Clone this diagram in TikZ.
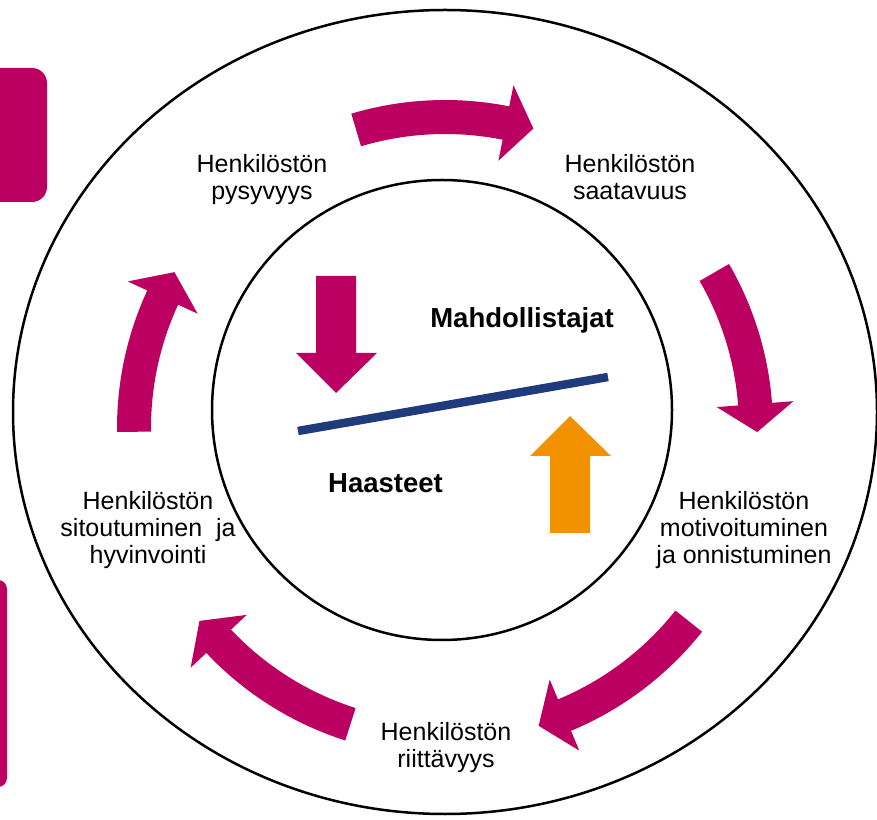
\documentclass[tikz,border=0pt]{standalone}
\usepackage{fontspec}
\setmainfont{Liberation Sans}
\definecolor{mag}{RGB}{188,0,98}
\definecolor{org}{RGB}{243,146,0}
\definecolor{navy}{RGB}{31,58,125}
% curved block arrow on circle centre (445,391), radius 311, clockwise from angle #1 to head base #2
\newcommand\cyclearrow[2]{%
  \pgfmathsetmacro\tipx{311*cos(#2)+28*cos(#2-90)}%
  \pgfmathsetmacro\tipy{311*sin(#2)+28*sin(#2-90)}%
  \fill[mag, shift={(445,391)}] (#1:328) arc[start angle=#1, end angle=#2, radius=328]
    -- (#2:349.5) -- (\tipx,\tipy) -- (#2:272.5) -- (#2:294)
    arc[start angle=#2, end angle=#1, radius=294] -- cycle;
}
\begin{document}
\begin{tikzpicture}[x=1pt,y=1pt,
  lbl/.style={font=\fontsize{25}{27}\selectfont, align=center, anchor=north, inner sep=0pt},
  boldlbl/.style={font=\fontsize{27.5}{30}\selectfont\bfseries, anchor=base, inner sep=0pt},
  ring/.style={draw=black, line width=2.5pt}]
\useasboundingbox (0,0) rectangle (877,819);
\fill[white] (0,0) rectangle (877,819);
% side tabs
\fill[mag, rounded corners=15pt] (-30,617) rectangle (47,751);
\fill[mag, rounded corners=9pt] (-30,32) rectangle (7,239);
% rings
\draw[ring] (445,407) ellipse[x radius=432, y radius=402];
\draw[ring] (442,409) circle[radius=230];
% cycle arrows
\cyclearrow{106.6}{78.7}
\cyclearrow{30.0}{4.4}
\cyclearrow{-38.4}{-67.4}
\cyclearrow{-107.7}{-136.7}
\cyclearrow{180.7}{155.2}
% labels
\node[lbl] (pys) at (262,665.2) {Henkilöstön\\pysyvyys};
\node[lbl] (saa) at (630,665.2) {Henkilöstön\\saatavuus};
\node[lbl] (mot) at (744,328.2) {Henkilöstön\\motivoituminen\\ja onnistuminen};
\node[lbl] (rii) at (446,97.2) {Henkilöstön\\riittävyys};
\node[lbl] (sit) at (148,328.2) {Henkilöstön\\sitoutuminen~~ja\\hyvinvointi};
% balance
\fill[mag] (316,543) -- (356,543) -- (356,466) -- (377,466) -- (336,426) -- (296,466) -- (316,466) -- cycle;
\fill[org] (550,286) -- (590,286) -- (590,363) -- (611,363) -- (570,403) -- (530,363) -- (550,363) -- cycle;
\draw[navy, line width=8.5pt] (298,388) -- (608,442);
\node[boldlbl] (mah) at (522,491) {Mahdollistajat};
\node[boldlbl] (haa) at (385.5,326) {Haasteet};
\end{tikzpicture}
\end{document}
